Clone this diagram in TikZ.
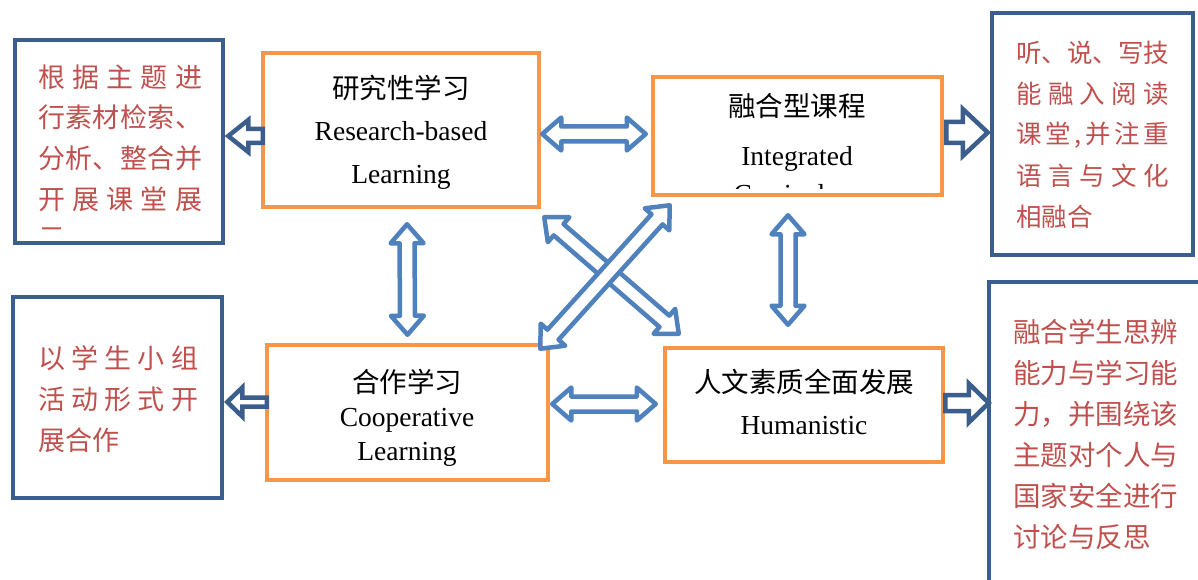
\documentclass[tikz,border=0pt]{standalone}
\usepackage{fontspec}
\setmainfont{Liberation Serif}
\newfontfamily\cjk{Noto Sans CJK SC}
\usetikzlibrary{calc}

\definecolor{boxorange}{HTML}{F79646}
\definecolor{boxblue}{HTML}{3B5E8C}
\definecolor{arrblue}{HTML}{4F81BD}
\definecolor{notered}{HTML}{C0504D}

\tikzset{
  mainbox/.style={draw=boxorange, line width=4.5pt, inner sep=0pt},
  notebox/.style={draw=boxblue, line width=4.5pt, inner sep=0pt},
  maintext/.style={align=center, inner sep=0pt, font=\fontsize{27.5}{#1}\selectfont},
  notetext/.style={anchor=west, inner sep=0pt, text=notered, font=\cjk\fontsize{#1}{#1}\selectfont},
  twoarr/.style={draw=arrblue, line width=4.5pt, fill=white, line join=round},
  onearr/.style={draw=boxblue, line width=4.5pt, fill=white, line join=miter},
}

% hollow double arrow between two coordinates
\newcommand{\twoway}[2]{%
  \coordinate (h1) at ($(#1)!19pt!(#2)$);
  \coordinate (h2) at ($(#2)!19pt!(#1)$);
  \draw[twoarr] (#1) -- ($(h1)!16.5pt!90:(#2)$) -- ($(h1)!7.5pt!90:(#2)$)
    -- ($(h2)!7.5pt!-90:(#1)$) -- ($(h2)!16.5pt!-90:(#1)$) -- (#2)
    -- ($(h2)!16.5pt!90:(#1)$) -- ($(h2)!7.5pt!90:(#1)$)
    -- ($(h1)!7.5pt!-90:(#2)$) -- ($(h1)!16.5pt!-90:(#2)$) -- cycle;}

% hollow single arrow: from, to, shaft, head, head length
\newcommand{\oneway}[5]{%
  \coordinate (hb) at ($(#2)!#5pt!(#1)$);
  \draw[onearr] ($(#1)!#3pt!90:(#2)$) -- ($(hb)!#3pt!-90:(#1)$) -- ($(hb)!#4pt!-90:(#1)$)
    -- (#2) -- ($(hb)!#4pt!90:(#1)$) -- ($(hb)!#3pt!90:(#1)$) -- ($(#1)!#3pt!-90:(#2)$) -- cycle;}

\begin{document}
\begin{tikzpicture}[x=1pt, y=-1pt]
\useasboundingbox (0,0) rectangle (1198,580);
\clip (0,0) rectangle (1198,580);

% boxes
\node[mainbox, minimum width=276pt, minimum height=154pt] (res) at (401,130) {};
\node[mainbox, minimum width=289pt, minimum height=118pt] (int) at (797.5,136) {};
\node[mainbox, minimum width=281pt, minimum height=135pt] (coo) at (407.5,412.5) {};
\node[mainbox, minimum width=278pt, minimum height=114pt] (hum) at (804,405) {};

\node[notebox, minimum width=208pt, minimum height=203pt] (lt) at (119,141.5) {};
\node[notebox, minimum width=209pt, minimum height=201pt] (lb) at (117.5,397.5) {};
\node[notebox, minimum width=201pt, minimum height=242pt] (rt) at (1092.5,134) {};
\node[notebox, minimum width=260pt, minimum height=360pt] (rb) at (1119,462) {};

% texts in the middle
\node[maintext=42.5] (restxt) at (401,132) {{\cjk 研究性学习}\\Research-based\\Learning};
\begin{scope}
  \clip ($(int.north west)+(4,4)$) rectangle ($(int.south east)+(-4,-9)$);
  \node[maintext=49] (inttxt) at (797,148.5) {{\cjk 融合型课程}\\Integrated\\[-11pt]Curriculum};
\end{scope}
\node[maintext=34] (cootxt) at (407,418) {{\cjk 合作学习}\\Cooperative\\Learning};
\node[maintext=42] (humtxt) at (804,402) {{\cjk 人文素质全面发展}\\Humanistic};

% notes
\begin{scope}
  \clip ($(lt.north west)+(3,3)$) rectangle (220,232);
  \foreach \t [count=\i] in {根\hfill 据\hfill 主\hfill 题\hfill 进, 行\hfill 素\hfill 材\hfill 检\hfill 索\hfill 、,
      分\hfill 析\hfill 、\hfill 整\hfill 合\hfill 并, 开\hfill 展\hfill 课\hfill 堂\hfill 展, 示\hfill}
    \node[notetext=27] (lt\i) at (38,{77+40.6*(\i-1)}) {\makebox[164pt][s]{\t}};
\end{scope}

\foreach \t [count=\i] in {以\hfill 学\hfill 生\hfill 小\hfill 组, 活\hfill 动\hfill 形\hfill 式\hfill 开, 展合作\hfill}
  \node[notetext=27] (lb\i) at (38,{358+41*(\i-1)}) {\makebox[160pt][s]{\t}};

\foreach \t [count=\i] in {听\hfill 、\hfill 说\hfill 、\hfill 写\hfill 技, 能\hfill 融\hfill 入\hfill 阅\hfill 读,
    课\hfill 堂\hfill {,}\hfill 并\hfill 注\hfill 重, 语\hfill 言\hfill 与\hfill 文\hfill 化, 相融合\hfill}
  \node[notetext=25.5] (rt\i) at (1016,{53+41*(\i-1)}) {\makebox[153pt][s]{\t}};

\foreach \t [count=\i] in {融合学生思辨, 能力与学习能, 力，并围绕该, 主题对个人与, 国家安全进行, 讨论与反思}
  \node[notetext=27.5] (rb\i) at (1013,{332+41*(\i-1)}) {\t};

% arrows between the boxes
\coordinate (ri1) at ($(res.east)+(1,4)$);
\coordinate (ri2) at ($(int.west)+(-5,-2)$);
\coordinate (rc1) at ($(res.south)+(6,15)$);
\coordinate (rc2) at ($(coo.north)+(0,-8)$);
\coordinate (ih1) at ($(int.south)+(-9.5,18)$);
\coordinate (ih2) at ($(hum.north)+(-16,-21)$);
\coordinate (ch1) at ($(coo.east)+(2,-8.5)$);
\coordinate (ch2) at ($(hum.west)+(-7,-1)$);
\coordinate (rh1) at ($(res.south east)+(3,8)$);
\coordinate (rh2) at ($(hum.north west)+(16,-12)$);
\coordinate (ci1) at ($(coo.north east)+(-10,6)$);
\coordinate (ci2) at ($(int.south west)+(19,8)$);

\twoway{ri1}{ri2}
\twoway{rc1}{rc2}
\twoway{ih1}{ih2}
\twoway{ch1}{ch2}
\twoway{rh1}{rh2}
\twoway{ci1}{ci2}

% arrows out to the notes
\coordinate (o1) at ($(res.west)+(2,6)$);
\coordinate (n1) at ($(lt.east)+(3,-5.5)$);
\coordinate (o2) at ($(int.east)+(2,-3.5)$);
\coordinate (n2) at ($(rt.west)+(-2,-1.5)$);
\coordinate (o3) at ($(coo.west)+(2,-10.5)$);
\coordinate (n3) at ($(lb.east)+(3,4.5)$);
\coordinate (o4) at ($(hum.east)+(0,-2)$);
\coordinate (n4) at ($(rb.west)+(2,-59)$);

\oneway{o1}{n1}{7}{16}{20}
\oneway{o2}{n2}{10.5}{23.5}{25}
\oneway{o3}{n3}{4.5}{14.5}{15}
\oneway{o4}{n4}{8}{19.5}{20}

\end{tikzpicture}
\end{document}
